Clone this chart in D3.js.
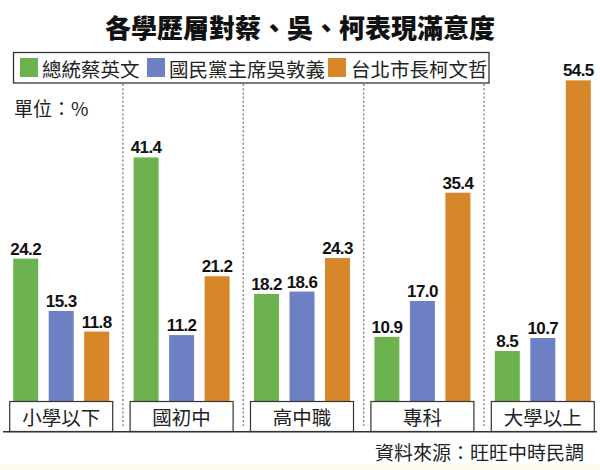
<!DOCTYPE html>
<html>
<head>
<meta charset="utf-8">
<script src="https://cdn.jsdelivr.net/npm/d3@7"></script>
<style>
  html, body { margin: 0; padding: 0; background: #ffffff; }
  svg { display: block; }
</style>
</head>
<body>
<svg id="chart" width="600" height="470"></svg>
<script>
// ---- data ----
const categories = ["小學以下", "國初中", "高中職", "專科", "大學以上"];
const seriesNames = ["總統蔡英文", "國民黨主席吳敦義", "台北市長柯文哲"];
const tsai = [24.2, 41.4, 18.2, 10.9, 8.5];
const wu   = [15.3, 11.2, 18.6, 17.0, 10.7];
const ko   = [11.8, 21.2, 24.3, 35.4, 54.5];
const seriesColors = ["#6cb24f", "#6d80c3", "#d8862a"];
const titleText = "各學歷層對蔡、吳、柯表現滿意度";
const unitText = "單位：%";
const sourceText = "資料來源：旺旺中時民調";

const seriesValues = [tsai, wu, ko];
const rows = categories.map((c, i) => ({
  cat: c,
  vals: seriesNames.map((s, j) => ({ key: s, value: seriesValues[j][i], color: seriesColors[j] }))
}));

const cjk = "'Noto Sans CJK TC', 'Noto Sans CJK SC', sans-serif";
const num = "'Liberation Sans', Arial, sans-serif";

const svg = d3.select("#chart");
svg.append("rect").attr("x", 0).attr("y", 0).attr("width", 600).attr("height", 470).attr("fill", "#ffffff");
svg.append("rect").attr("x", 0).attr("y", 464).attr("width", 600).attr("height", 6).attr("fill", "#fffaf0");

// scales
const x0 = d3.scaleBand().domain(categories).range([1, 603]).padding(0);
const x1 = d3.scaleBand().domain(seriesNames)
  .range([(x0.bandwidth() - 106.5) / 2, (x0.bandwidth() + 106.5) / 2])
  .paddingInner(0.296).paddingOuter(0.148);
const y = d3.scaleLinear().domain([0, 60]).range([401, 48]);

// title
svg.append("text")
  .attr("x", 300).attr("y", 26)
  .attr("text-anchor", "middle").attr("dominant-baseline", "central")
  .attr("font-family", cjk).attr("font-weight", 900).attr("font-size", 26)
  .attr("fill", "#111").text(titleText);

// dashed dividers
const dividers = categories.slice(1);
svg.append("g").selectAll("line").data(dividers).join("line")
  .attr("x1", d => x0(d) + 1.5).attr("x2", d => x0(d) + 1.5)
  .attr("y1", 84).attr("y2", 426)
  .attr("stroke", "#8a8a8a").attr("stroke-width", 1.5)
  .attr("stroke-dasharray", "2,2.2");

// legend
const legend = svg.append("g");
legend.append("rect")
  .attr("x", 13.5).attr("y", 52.5).attr("width", 475.5).attr("height", 30.5)
  .attr("fill", "#ffffff").attr("stroke", "#333").attr("stroke-width", 1.3);
const legendX = [20, 147, 328];
const legendItems = legend.selectAll("g.item").data(seriesNames).join("g")
  .attr("class", "item")
  .attr("transform", (d, i) => `translate(${legendX[i]},0)`);
legendItems.append("rect")
  .attr("x", 0).attr("y", 58).attr("width", 18).attr("height", 19)
  .attr("fill", (d, i) => seriesColors[i]);
legendItems.append("text")
  .attr("x", (d, i) => i === 2 ? 23 : 22).attr("y", 68)
  .attr("dominant-baseline", "central")
  .attr("font-family", cjk).attr("font-size", 19.5).attr("fill", "#222")
  .text(d => d);

// unit
svg.append("text")
  .attr("x", 14).attr("y", 107)
  .attr("dominant-baseline", "central")
  .attr("font-family", cjk).attr("font-size", 19).attr("fill", "#222")
  .text(unitText);

// bars
const groups = svg.append("g").selectAll("g.grp").data(rows).join("g")
  .attr("class", "grp")
  .attr("transform", d => `translate(${x0(d.cat)},0)`);

groups.selectAll("rect.bar").data(d => d.vals).join("rect")
  .attr("class", "bar")
  .attr("x", d => x1(d.key)).attr("width", x1.bandwidth())
  .attr("y", d => y(d.value)).attr("height", d => y(0) - y(d.value))
  .attr("fill", d => d.color);

groups.selectAll("text.val").data(d => d.vals).join("text")
  .attr("class", "val")
  .attr("x", d => x1(d.key) + x1.bandwidth() / 2)
  .attr("y", d => y(d.value) - 4)
  .attr("text-anchor", "middle")
  .attr("font-family", num).attr("font-weight", "bold").attr("font-size", 17)
  .attr("letter-spacing", -0.6)
  .attr("fill", "#111")
  .text(d => d3.format(".1f")(d.value));

// category boxes
const boxW = 103;
groups.append("rect")
  .attr("x", (x0.bandwidth() - boxW) / 2).attr("y", 401.5)
  .attr("width", boxW).attr("height", 30)
  .attr("fill", "#ffffff").attr("stroke", "#333").attr("stroke-width", 1.2);
groups.append("text")
  .attr("x", x0.bandwidth() / 2).attr("y", 416)
  .attr("text-anchor", "middle").attr("dominant-baseline", "central")
  .attr("font-family", cjk).attr("font-size", 19.5).attr("fill", "#222")
  .text(d => d.cat);

// baseline
svg.append("line")
  .attr("x1", 3).attr("x2", 597).attr("y1", 431.8).attr("y2", 431.8)
  .attr("stroke", "#333").attr("stroke-width", 1.6);

// source
svg.append("text")
  .attr("x", 584).attr("y", 451)
  .attr("text-anchor", "end").attr("dominant-baseline", "central")
  .attr("font-family", cjk).attr("font-size", 19).attr("fill", "#222")
  .text(sourceText);
</script>
</body>
</html>
